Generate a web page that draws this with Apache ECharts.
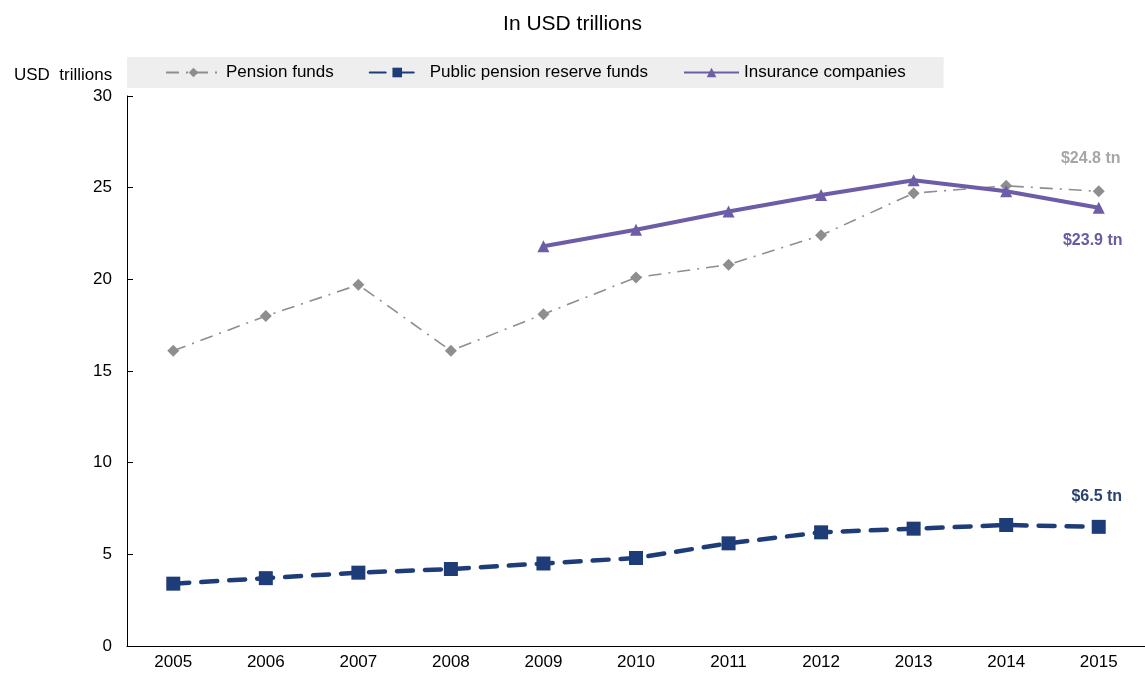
<!DOCTYPE html>
<html>
<head>
<meta charset="utf-8">
<script src="https://cdn.jsdelivr.net/npm/echarts@6/dist/echarts.min.js"></script>
<style>
  html, body { margin: 0; padding: 0; background: #fff; }
  #chart { width: 1145px; height: 674px; }
</style>
</head>
<body>
<div id="chart"></div>
<script>
// Assets by type of provider, USD trillions
const years = ['2005', '2006', '2007', '2008', '2009', '2010', '2011', '2012', '2013', '2014', '2015'];
const pensionFunds = [16.1, 18.0, 19.7, 16.1, 18.1, 20.1, 20.8, 22.4, 24.7, 25.1, 24.8];
const publicReserveFunds = [3.4, 3.7, 4.0, 4.2, 4.5, 4.8, 5.6, 6.2, 6.4, 6.6, 6.5];
const insuranceCompanies = [null, null, null, null, 21.8, 22.7, 23.7, 24.6, 25.4, 24.8, 23.9];
const seriesNames = ['Pension funds', 'Public pension reserve funds', 'Insurance companies'];
const endLabels = ['$24.8 tn', '$6.5 tn', '$23.9 tn'];

const FONT = '"Liberation Sans", Arial, sans-serif';
const colors = ['#8e8e8e', '#1e3c78', '#6d5ca6'];
const labelColors = ['#a6a6a6', '#2b4170', '#6a5aa0'];

// put the value callout on the final point of each series
function withEndLabel(values, idx, pos, offset) {
  return values.map((v, i) => {
    if (i !== values.length - 1) return v;
    return {
      value: v,
      label: {
        show: true,
        position: pos,
        offset: offset,
        formatter: endLabels[idx],
        color: labelColors[idx],
        fontFamily: FONT,
        fontSize: 16,
        fontWeight: 'bold'
      }
    };
  });
}

const chart = echarts.init(document.getElementById('chart'), null, { renderer: 'canvas' });
chart.setOption({
  animation: false,
  backgroundColor: '#ffffff',
  title: [
    {
      text: 'In USD trillions',
      left: 'center',
      top: 9,
      textStyle: { fontFamily: FONT, fontSize: 21, fontWeight: 'normal', color: '#000' }
    },
    {
      text: 'USD  trillions',
      left: 9,
      top: 62,
      textStyle: { fontFamily: FONT, fontSize: 17, fontWeight: 'normal', color: '#000' }
    }
  ],
  legend: {
    left: 127,
    top: 57,
    backgroundColor: '#eeeeee',
    padding: [7, 38, 7, 38],
    itemGap: 35,
    itemWidth: 55,
    itemHeight: 12,
    data: seriesNames,
    textStyle: { fontFamily: FONT, fontSize: 17, color: '#000' }
  },
  grid: { left: 127, right: 0, top: 96, bottom: 28 },
  xAxis: {
    type: 'category',
    data: years,
    boundaryGap: true,
    axisLine: { lineStyle: { color: '#000', width: 1 } },
    axisTick: { inside: true, length: 6, lineStyle: { color: '#000' } },
    axisLabel: { fontFamily: FONT, fontSize: 17, color: '#000', margin: 8 }
  },
  yAxis: {
    type: 'value',
    min: 0,
    max: 30,
    interval: 5,
    splitLine: { show: false },
    axisLine: { show: true, lineStyle: { color: '#000', width: 1 } },
    axisTick: { show: true, inside: true, length: 6, lineStyle: { color: '#000' } },
    axisLabel: { fontFamily: FONT, fontSize: 17, color: '#000', margin: 15 }
  },
  series: [
    {
      name: seriesNames[0],
      type: 'line',
      data: withEndLabel(pensionFunds, 0, 'top', [-8, -14]),
      symbol: 'diamond',
      symbolSize: 12,
      itemStyle: { color: colors[0] },
      lineStyle: { color: colors[0], width: 1.6, type: [13, 7, 2, 7] },
      z: 2
    },
    {
      name: seriesNames[1],
      type: 'line',
      data: withEndLabel(publicReserveFunds, 1, 'top', [-2, -10]),
      symbol: 'rect',
      symbolSize: 14,
      itemStyle: { color: colors[1] },
      lineStyle: { color: colors[1], width: 4.5, type: [16, 12], cap: 'round' },
      z: 3
    },
    {
      name: seriesNames[2],
      type: 'line',
      data: withEndLabel(insuranceCompanies, 2, 'bottom', [-6, 14]),
      symbol: 'triangle',
      symbolSize: 12,
      itemStyle: { color: colors[2] },
      lineStyle: { color: colors[2], width: 4 },
      z: 4
    }
  ]
});
</script>
</body>
</html>
